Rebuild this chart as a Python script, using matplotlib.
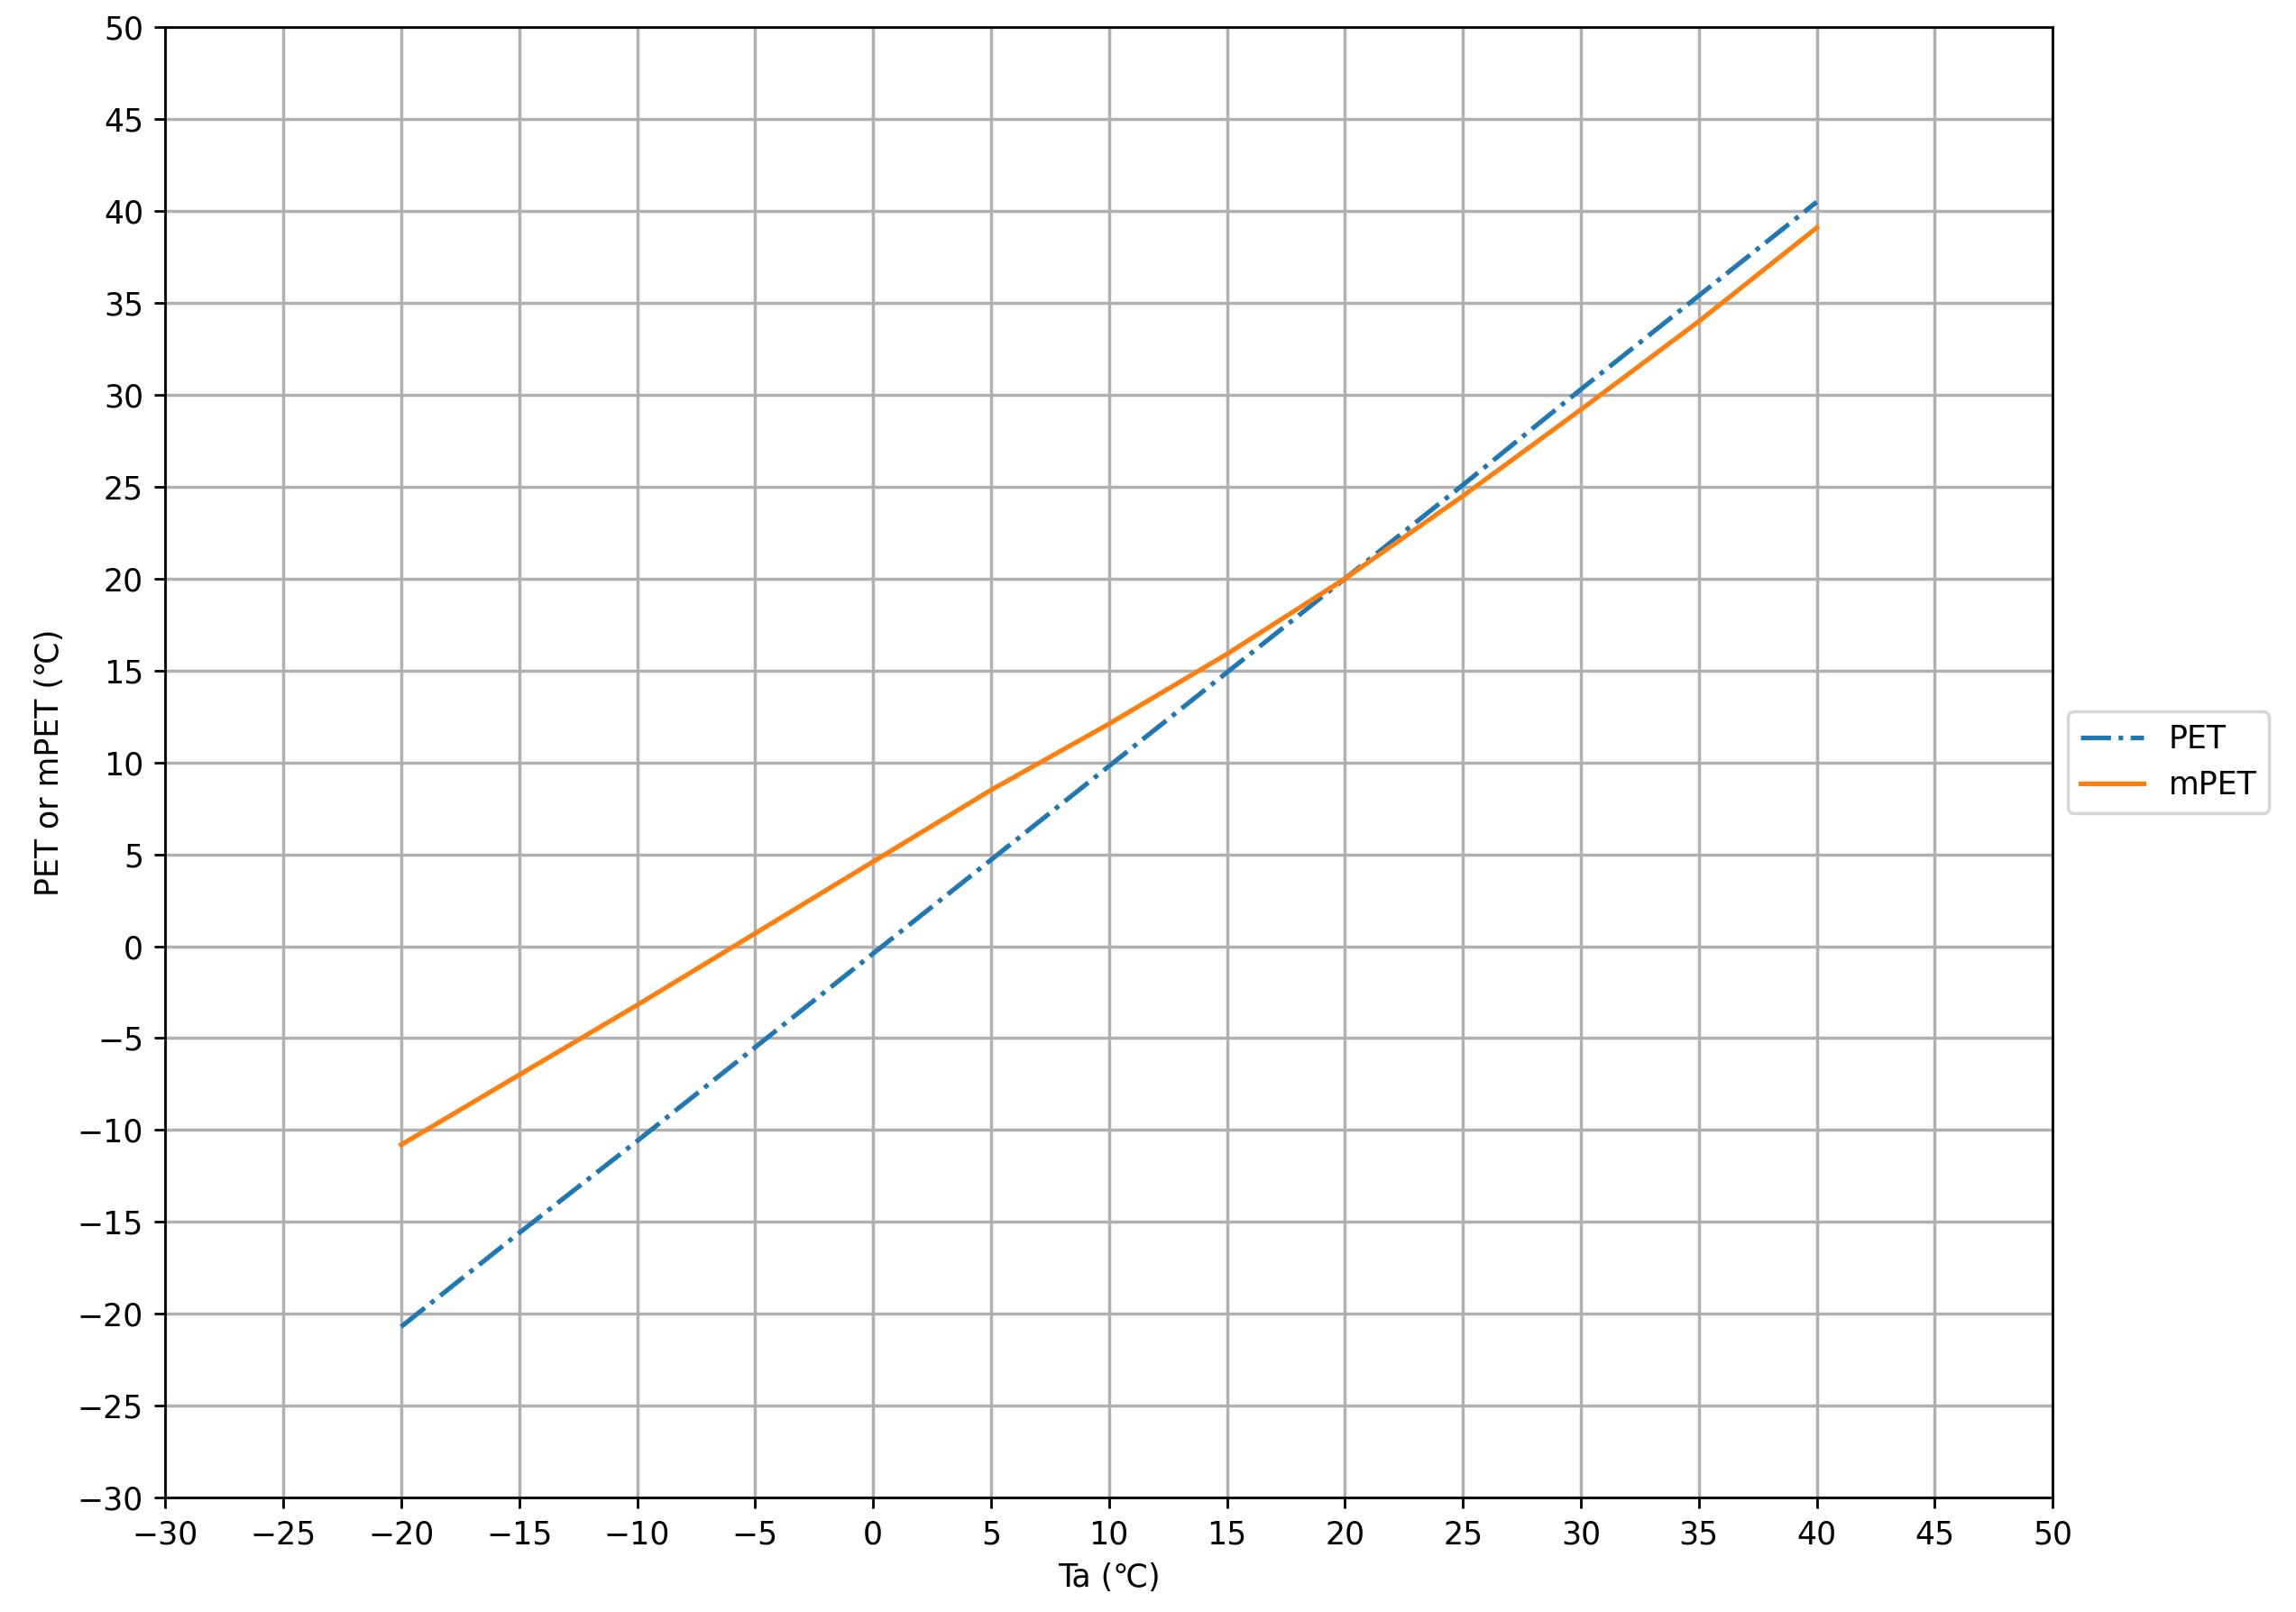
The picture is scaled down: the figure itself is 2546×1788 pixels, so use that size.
import numpy as np
import matplotlib.pyplot as plt

ta = [-20, -15, -10, -5, 0, 5, 10, 15, 20, 25, 30, 35, 40]
pet = [-20.7, -15.6, -10.6, -5.5, -0.4, 4.7, 9.8, 14.9, 20.0, 25.1, 30.3, 35.4, 40.5]
mpet = [-10.8, -7.0, -3.2, 0.7, 4.6, 8.5, 12.1, 15.9, 20.0, 24.5, 29.2, 34.0, 39.1]

fig = plt.figure(figsize=(10.184, 7.152), dpi=250)
ax = fig.add_axes([0.072, 0.071, 0.822, 0.912])

ax.plot(ta, pet, linestyle="-.", color="#1f77b4", linewidth=1.5, label="PET")
ax.plot(ta, mpet, linestyle="-", color="#ff7f0e", linewidth=1.5, label="mPET")

ax.set_xlim(-30, 50)
ax.set_ylim(-30, 50)
ax.set_xticks(np.arange(-30, 51, 5))
ax.set_yticks(np.arange(-30, 51, 5))
ax.grid(True, linewidth=1.0, color="#b0b0b0")

ax.set_xlabel("Ta (℃)")
ax.set_ylabel("PET or mPET (℃)")

ax.legend(loc="center left", bbox_to_anchor=(1.0, 0.5))

plt.savefig("out.png", dpi=250)
